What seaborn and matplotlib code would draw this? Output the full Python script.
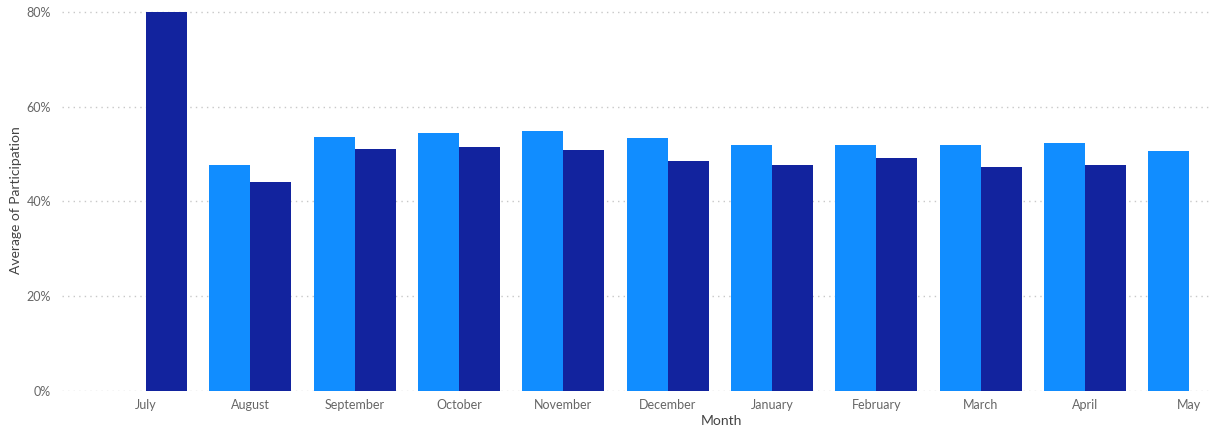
import matplotlib
matplotlib.use("Agg")
import matplotlib.pyplot as plt
import seaborn as sns
import pandas as pd
import numpy as np
from matplotlib.ticker import FuncFormatter

months = ["July", "August", "September", "October", "November", "December",
          "January", "February", "March", "April", "May"]
series_a = [np.nan, 47.6, 53.7, 54.5, 54.9, 53.3, 52.0, 51.9, 52.0, 52.3, 50.7]
series_b = [80.0, 44.2, 51.1, 51.4, 50.9, 48.6, 47.6, 49.2, 47.2, 47.6, np.nan]
series_names = ["Previous Year", "Current Year"]
colors = ["#118DFF", "#12239E"]

df = pd.DataFrame({
    "Month": months * 2,
    "Participation": series_a + series_b,
    "Series": [series_names[0]] * len(months) + [series_names[1]] * len(months),
})

sns.set_theme(style="white")
plt.rcParams['font.family'] = ['Lato', 'DejaVu Sans']

fig = plt.figure(figsize=(12.17, 4.29), dpi=100)
ax = fig.add_axes([62/1217, 1 - 391/429, (1210-62)/1217, (391-10)/429])

sns.barplot(data=df, x="Month", y="Participation", hue="Series",
            order=months, hue_order=series_names, palette=colors,
            width=0.786, gap=0, dodge=True, saturation=1, errorbar=None,
            edgecolor="none", legend=False, ax=ax)

ax.set_xlim(-0.805, 10.2)
ax.set_ylim(0, 80.42)
ax.set_yticks([0, 20, 40, 60, 80])
ax.yaxis.set_major_formatter(FuncFormatter(lambda v, p: f"{v:.0f}%"))
ax.grid(axis="y", color="#C8C8C8", linestyle=(0, (1, 3)), linewidth=1)
ax.set_axisbelow(True)
for s in ax.spines.values():
    s.set_visible(False)
ax.tick_params(axis="both", length=0, labelsize=9, colors="#666666")
ax.tick_params(axis="y", pad=8)
ax.tick_params(axis="x", pad=6)
ax.set_ylabel("Average of Participation", fontsize=10, color="#444444")
ax.set_xlabel("Month", fontsize=10, color="#444444")
ax.yaxis.set_label_coords(-40/1148, 0.5)
ax.xaxis.set_label_coords((721-62)/1148, -24/381)

fig.savefig("out.png", dpi=100)
